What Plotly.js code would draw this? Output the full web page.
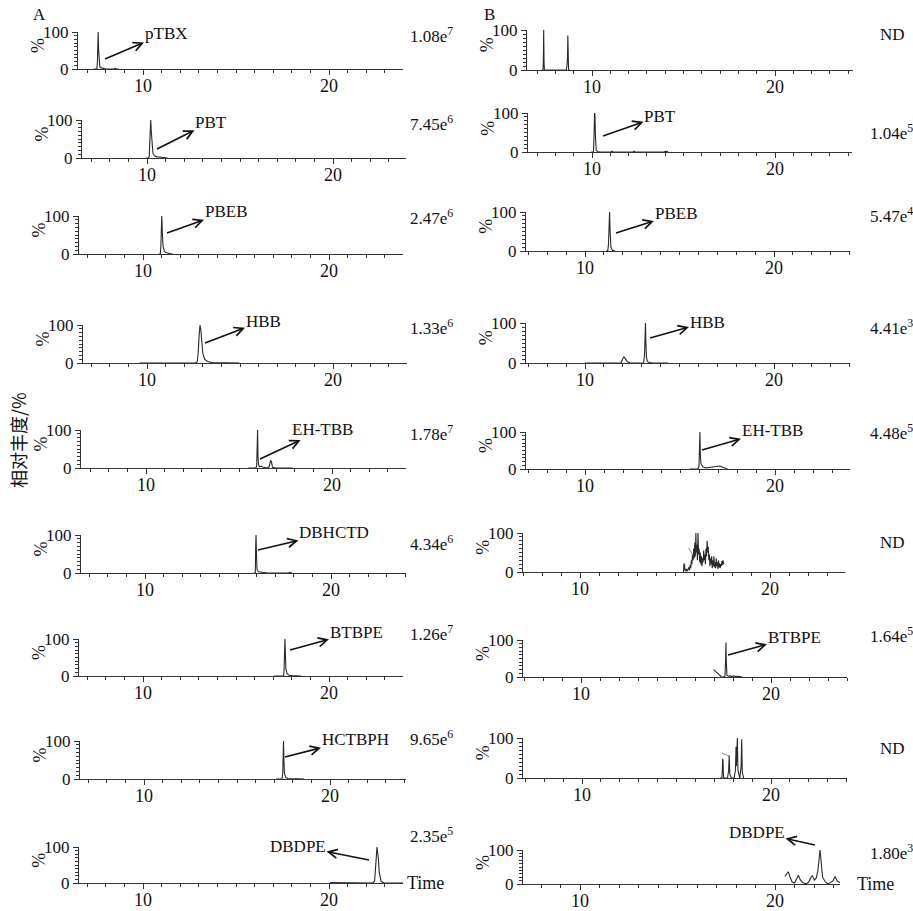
<!DOCTYPE html>
<html><head><meta charset="utf-8">
<script src="https://cdn.plot.ly/plotly-3.0.1.min.js"></script>
<style>html,body{margin:0;padding:0;background:#fff;}#chart{width:913px;height:911px;}</style>
</head><body><div id="chart"></div>
<script>
// ---------- DATA ----------
// Column A chromatograms (time, min ; relative abundance, %)
const tA1 = [7.35, 7.45, 7.52, 7.55, 7.57, 7.59, 7.61, 7.64, 7.68, 7.75, 7.85, 8.0, 8.45, 8.5, 8.55, 8.7];
const iA1 = [0, 0, 0, 20, 70, 100, 55, 15, 6, 3, 1, 0, 0, 1.5, 0, 0];
const tA2 = [9.95, 10.08, 10.12, 10.15, 10.18, 10.2, 10.23, 10.27, 10.32, 10.4, 10.55, 10.8, 11.1];
const iA2 = [0, 0, 5, 40, 85, 100, 70, 30, 12, 6, 3, 2, 0];
const tA3 = [10.85, 10.93, 10.96, 10.99, 11.01, 11.04, 11.08, 11.15, 11.25, 11.45, 11.6];
const iA3 = [0, 0, 20, 60, 100, 55, 20, 7, 3, 1, 0];
const tA4 = [9.6, 12.6, 12.7, 12.75, 12.8, 12.85, 12.9, 12.95, 13.0, 13.1, 13.25, 13.5, 14.95];
const iA4 = [0, 0, 3, 25, 70, 100, 85, 50, 25, 10, 4, 1, 0];
const tA5 = [15.5, 15.9, 15.95, 15.98, 16.0, 16.02, 16.05, 16.1, 16.2, 16.3, 16.5, 16.62, 16.66, 16.7, 16.74, 16.8, 17.0, 17.9];
const iA5 = [0, 0, 5, 60, 100, 30, 8, 3, 5, 2, 0, 3, 14, 20, 17, 2, 0, 0];
const tA6 = [15.85, 15.93, 15.95, 15.97, 15.99, 16.02, 16.1, 16.3, 16.6, 17.7, 17.8, 17.9];
const iA6 = [0, 0, 70, 100, 60, 10, 3, 1, 0, 0, 1.5, 0];
const tA7 = [17.05, 17.55, 17.58, 17.61, 17.63, 17.65, 17.68, 17.75, 17.85, 18.0, 18.5];
const iA7 = [0, 0, 10, 75, 100, 70, 20, 6, 2, 1, 0];
const tA8 = [17.1, 17.42, 17.46, 17.48, 17.5, 17.52, 17.55, 17.62, 17.75, 18.6];
const iA8 = [0, 0, 15, 60, 100, 55, 15, 4, 1, 0];
const tA9 = [20.05, 20.1, 22.35, 22.45, 22.5, 22.55, 22.58, 22.65, 22.7, 22.8, 22.95, 24.0];
const iA9 = [0, 1.5, 0, 5, 40, 85, 100, 70, 30, 5, 0, 0];

// Column B chromatograms
const tB1 = [7.25, 7.32, 7.34, 7.36, 7.38, 7.4, 7.5, 8.6, 8.64, 8.66, 8.68, 8.7, 8.72, 8.8];
const iB1 = [0, 0, 20, 100, 20, 0, 0, 0, 15, 30, 86, 30, 0, 0];
const tB2 = [9.95, 10.08, 10.11, 10.14, 10.16, 10.19, 10.23, 10.3, 10.4, 11.05, 11.1, 11.15, 12.25, 12.3, 12.35, 13.95, 14.0, 14.05, 14.1, 14.15];
const iB2 = [0, 0, 40, 100, 95, 40, 5, 1, 0, 0, 2, 0, 0, 2, 0, 0, 2, 0, 2, 0];
const tB3 = [11.1, 11.2, 11.24, 11.27, 11.3, 11.33, 11.37, 11.45, 11.6];
const iB3 = [0, 0, 15, 60, 100, 50, 10, 2, 0];
const tB4 = [10.0, 10.8, 10.9, 11.3, 11.4, 11.9, 12.05, 12.15, 12.25, 12.4, 13.1, 13.15, 13.18, 13.2, 13.22, 13.25, 13.3, 13.4, 13.6, 14.4];
const iB4 = [0, 0, 1.5, 0, 1.5, 0, 16, 8, 3, 0, 0, 20, 60, 100, 55, 15, 4, 1, 0, 0];
const tB5 = [15.5, 15.95, 16.0, 16.03, 16.05, 16.07, 16.1, 16.2, 16.35, 16.5, 16.7, 16.9, 17.1, 17.25, 17.4, 17.5];
const iB5 = [0, 0, 8, 80, 100, 40, 15, 6, 3, 4, 5, 7, 8, 5, 2, 0];
const tB6 = [15.45, 15.47, 15.5, 15.52, 15.56, 15.6, 15.64, 15.68, 15.72, 15.76, 15.8, 15.83, 15.86, 15.89, 15.92, 15.95, 15.98, 16.01, 16.04, 16.07, 16.1, 16.12, 16.15, 16.18, 16.21, 16.24, 16.27, 16.3, 16.33, 16.36, 16.39, 16.42, 16.45, 16.48, 16.51, 16.54, 16.57, 16.6, 16.63, 16.66, 16.69, 16.72, 16.75, 16.78, 16.81, 16.84, 16.87, 16.9, 16.93, 16.96, 16.99, 17.02, 17.05, 17.08, 17.11, 17.14, 17.17, 17.2, 17.23, 17.26, 17.29, 17.32, 17.35, 17.38, 17.41, 17.44, 17.47, 17.5, 17.53, 17.56];
const iB6 = [0, 22, 18, 5, 3, 8, 2, 6, 12, 4, 18, 10, 30, 20, 45, 30, 60, 35, 75, 40, 100, 50, 70, 30, 100, 45, 60, 25, 50, 20, 40, 15, 35, 25, 55, 30, 45, 20, 60, 40, 80, 50, 65, 30, 45, 15, 35, 20, 40, 10, 30, 15, 40, 12, 25, 10, 35, 15, 25, 8, 30, 12, 22, 10, 20, 15, 28, 18, 30, 20];
const tB6b = [15.72, 15.95];
const iB6b = [62, 42];
const tB7 = [16.98, 17.1, 17.25, 17.4, 17.5, 17.58, 17.61, 17.63, 17.65, 17.68, 17.75, 17.85, 17.95, 18.05, 18.15, 18.3, 18.5];
const iB7 = [20, 14, 6, 0, 0, 2, 45, 93, 40, 5, 2, 3, 1, 3, 1, 2, 0];
const tB8 = [17.3, 17.4, 17.42, 17.44, 17.46, 17.48, 17.5, 17.7, 17.76, 17.79, 17.82, 17.9, 18.05, 18.12, 18.15, 18.17, 18.2, 18.22, 18.25, 18.35, 18.42, 18.45, 18.48, 18.55];
const iB8 = [0, 0, 15, 48, 45, 10, 0, 0, 20, 56, 10, 0, 0, 20, 78, 30, 60, 100, 20, 0, 30, 97, 15, 0];
const tB8b = [17.4, 17.78];
const iB8b = [62, 55];
const tB9 = [20.5, 20.6, 20.68, 20.78, 20.88, 21.0, 21.12, 21.2, 21.3, 21.45, 21.6, 21.72, 21.85, 21.92, 22.02, 22.12, 22.2, 22.26, 22.31, 22.36, 22.44, 22.56, 22.7, 22.85, 22.98, 23.08, 23.2, 23.33];
const iB9 = [22, 30, 36, 20, 6, 3, 18, 26, 12, 3, 1, 5, 20, 24, 12, 18, 40, 85, 100, 70, 20, 8, 0, 4, 10, 22, 8, 4];

// Labels
const namesA = ['pTBX', 'PBT', 'PBEB', 'HBB', 'EH-TBB', 'DBHCTD', 'BTBPE', 'HCTBPH', 'DBDPE'];
const namesB = ['', 'PBT', 'PBEB', 'HBB', 'EH-TBB', '', 'BTBPE', '', 'DBDPE'];
const intA = ['1.08e<sup>7</sup>', '7.45e<sup>6</sup>', '2.47e<sup>6</sup>', '1.33e<sup>6</sup>', '1.78e<sup>7</sup>', '4.34e<sup>6</sup>', '1.26e<sup>7</sup>', '9.65e<sup>6</sup>', '2.35e<sup>5</sup>'];
const intB = ['ND', '1.04e<sup>5</sup>', '5.47e<sup>4</sup>', '4.41e<sup>3</sup>', '4.48e<sup>5</sup>', 'ND', '1.64e<sup>5</sup>', 'ND', '1.80e<sup>3</sup>'];
const xTickVals = [10, 20];
const xTickText = ['10', '20'];
const yTickVals = [0, 100];
const yTickText = ['0', '100'];
const yTitle = '%';
const bigYTitle = '相对丰度/%';
const timeLabel = 'Time';

// ---------- LAYOUT (pixel geometry) ----------
const W = 913, H = 911;
// [y of 100, y of 0, x start, x end, x of tick 10, x of tick 20]
const geo = [
  [32, 69, 78, 403, 143, 329], [120, 158, 82, 406, 147, 333], [216, 254, 79, 403, 143, 329],
  [325, 363, 83, 407, 147, 333], [430, 468, 81, 406, 146, 332], [535, 573, 81, 406, 145, 331],
  [639, 676, 79, 403, 143, 329], [741, 779, 80, 406, 144, 330], [847, 883, 79, 403, 143, 329],
  [30, 70, 527, 853, 592, 775], [113, 152, 528, 852, 592, 775], [212, 251, 526, 850, 585, 774],
  [323, 363, 526, 850, 585, 774], [432, 469, 526, 850, 585, 775], [533, 572, 523, 845, 580, 770],
  [640, 677, 523, 847, 581, 771], [738, 778, 523, 847, 582, 771], [850, 884, 523, 840, 580, 775]
];
// arrow tail (peak side) [x, y] and label centre [x, y]
const arrowTail = [
  [105, 59], [157, 149], [167, 233], [205, 343], [260, 459], [258, 550], [290, 650], [285, 757], [369, 860],
  null, [603, 136], [616, 233], [650, 338], [702, 450], null, [728, 655], null, [815, 845]
];
const labelCtr = [
  [166, 33], [211, 122], [226, 212], [263, 321], [322, 430], [334, 532], [356, 632], [355, 739], [298, 846],
  null, [660, 116], [676, 214], [707, 322], [772, 430], null, [794, 637], null, [757, 832]
];
const intY = [35, 123, 217, 327, 433, 543, 633, 738, 835, 35, 132, 215, 327, 432, 542, 635, 748, 852];

const serif = '"Liberation Serif", "Times New Roman", serif';
const lineCol = '#333';
const series = [
  [[tA1, iA1]], [[tA2, iA2]], [[tA3, iA3]], [[tA4, iA4]], [[tA5, iA5]], [[tA6, iA6]], [[tA7, iA7]], [[tA8, iA8]], [[tA9, iA9]],
  [[tB1, iB1]], [[tB2, iB2]], [[tB3, iB3]], [[tB4, iB4]], [[tB5, iB5]], [[tB6, iB6], [tB6b, iB6b]], [[tB7, iB7]], [[tB8, iB8], [tB8b, iB8b]], [[tB9, iB9]]
];
const names = namesA.concat(namesB);
const ints = intA.concat(intB);

const data = [];
const layout = {
  width: W, height: H, margin: {l: 0, r: 0, t: 0, b: 0},
  paper_bgcolor: '#fff', plot_bgcolor: 'rgba(0,0,0,0)', showlegend: false,
  font: {family: serif, color: '#111'},
  annotations: []
};
const px = x => x / W, py = y => 1 - y / H;

geo.forEach((g, k) => {
  const n = k + 1;
  const xs = n === 1 ? '' : String(n);
  const [y100, y0, xs0, xe0, x10, x20] = g;
  const s = (x20 - x10) / 10;
  const xmin = 10 - (x10 - xs0) / s, xmax = 10 + (xe0 - x10) / s;
  layout['xaxis' + xs] = {
    domain: [px(xs0), px(xe0)], range: [xmin, xmax], anchor: 'y' + xs,
    tickmode: 'array', tickvals: xTickVals, ticktext: xTickText,
    ticks: 'outside', ticklen: 5, tickwidth: 1, tickcolor: lineCol, ticklabelstandoff: -5,
    showline: true, linecolor: lineCol, linewidth: 1, showgrid: false, zeroline: false,
    tickfont: {family: serif, size: 18, color: '#111'}, fixedrange: true,
    minor: {tickmode: 'linear', tick0: 0, dtick: 1, ticks: 'outside', ticklen: 3, tickcolor: lineCol, showgrid: false}
  };
  layout['yaxis' + xs] = {
    domain: [py(y0), py(y100)], range: [0, 100], anchor: 'x' + xs,
    tickmode: 'array', tickvals: yTickVals, ticktext: yTickText,
    ticks: 'outside', ticklen: 5, tickwidth: 1, tickcolor: lineCol,
    showline: true, linecolor: lineCol, linewidth: 1, showgrid: false, zeroline: false,
    tickfont: {family: serif, size: 17, color: '#111'}, fixedrange: true,
    minor: {tickmode: 'linear', tick0: 0, dtick: 10, ticks: 'outside', ticklen: 3, tickcolor: lineCol, showgrid: false}
  };
  series[k].forEach(([t, v], j) => {
    data.push({x: t, y: v, xaxis: 'x' + xs, yaxis: 'y' + xs, mode: 'lines', hoverinfo: 'skip',
      line: {color: j === 0 ? '#2a2a2a' : '#777', width: j === 0 ? 1.1 : 0.8}});
  });
  // % axis label
  layout.annotations.push({xref: 'paper', yref: 'paper', x: px(xs0 - 40), y: py(y100 + 0.38 * (y0 - y100)),
    text: yTitle, textangle: -90, showarrow: false, xanchor: 'center', yanchor: 'middle',
    font: {family: serif, size: 18, color: '#111'}});
  // intensity label
  const isND = ints[k] === 'ND';
  layout.annotations.push({xref: 'paper', yref: 'paper', x: px(k < 9 ? 408 : (isND ? 878 : 868)), y: py(intY[k]),
    text: ints[k], showarrow: false, xanchor: 'left', yanchor: 'middle',
    font: {family: serif, size: 17, color: '#111'}});
  // compound name with arrow pointing from the peak to the name
  if (arrowTail[k]) {
    const [tx, ty] = arrowTail[k];
    const [cx, cy] = labelCtr[k];
    layout.annotations.push({xref: 'paper', yref: 'paper', x: px(tx), y: py(ty), ax: cx - tx, ay: cy - ty,
      axref: 'pixel', ayref: 'pixel', text: names[k], showarrow: true, arrowside: 'start',
      arrowhead: 5, startarrowhead: 5, arrowsize: 1.1, startarrowsize: 1.1,
      arrowwidth: 1.6, arrowcolor: '#111', standoff: 0, startstandoff: 0, borderpad: 0,
      xanchor: 'center', yanchor: 'middle', font: {family: serif, size: 17, color: '#111'}});
  }
});

// Time labels on bottom panels
layout.annotations.push({xref: 'paper', yref: 'paper', x: px(405), y: py(883), text: timeLabel, showarrow: false,
  xanchor: 'left', yanchor: 'middle', font: {family: serif, size: 18, color: '#111'}});
layout.annotations.push({xref: 'paper', yref: 'paper', x: px(855), y: py(884), text: timeLabel, showarrow: false,
  xanchor: 'left', yanchor: 'middle', font: {family: serif, size: 18, color: '#111'}});
// Panel letters
layout.annotations.push({xref: 'paper', yref: 'paper', x: px(39), y: py(14), text: 'A', showarrow: false,
  xanchor: 'center', yanchor: 'middle', font: {family: serif, size: 17, color: '#111'}});
layout.annotations.push({xref: 'paper', yref: 'paper', x: px(489), y: py(14), text: 'B', showarrow: false,
  xanchor: 'center', yanchor: 'middle', font: {family: serif, size: 17, color: '#111'}});
// overall y title
layout.annotations.push({xref: 'paper', yref: 'paper', x: px(18), y: py(440), text: bigYTitle, textangle: -90,
  showarrow: false, xanchor: 'center', yanchor: 'middle',
  font: {family: '"Noto Sans CJK SC", sans-serif', size: 18, color: '#111'}});

Plotly.newPlot('chart', data, layout, {displayModeBar: false, staticPlot: true});
</script>
</body></html>
